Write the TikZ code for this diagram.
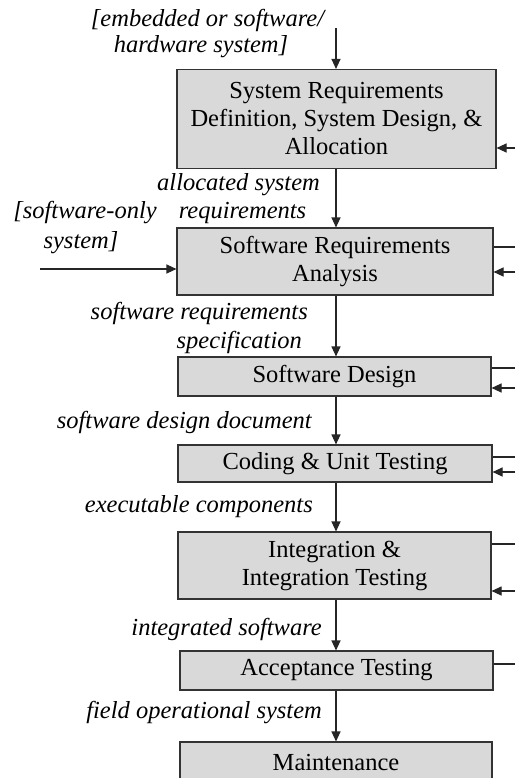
\documentclass[tikz,border=0pt]{standalone}
\usepackage{fontspec}
\setmainfont{Liberation Serif}
\usetikzlibrary{arrows.meta}
\begin{document}
\begin{tikzpicture}[x=1pt,y=-1pt,
  stage/.style={draw=black!80, line width=1.1pt, fill=black!15, inner sep=0pt,
    align=center, font=\fontsize{24.5}{28}\selectfont},
  lbl/.style={inner sep=0pt, font=\fontsize{24.5}{28}\selectfont\itshape},
  flow/.style={line width=1.1pt, draw=black!85, -{Triangle[length=10pt,width=9pt]}},
  link/.style={line width=1.1pt, draw=black!85}]
\clip (0,0) rectangle (515,778);
\fill[white] (0,0) rectangle (515,778);
% stages
\node[stage, minimum width=319pt, minimum height=99pt] (b1) at (336.5,119)
  {System Requirements\\Definition, System Design, \&\\Allocation};
\node[stage, minimum width=316pt, minimum height=67pt] (b2) at (335,261.5)
  {Software Requirements\\Analysis};
\node[stage, minimum width=313pt, minimum height=39pt] (b3) at (334.5,376.5)
  {Software Design};
\node[stage, minimum width=314pt, minimum height=37pt] (b4) at (335,463.5)
  {Coding \& Unit Testing};
\node[stage, minimum width=313pt, minimum height=67pt] (b5) at (334.5,565.5)
  {Integration \&\\Integration Testing};
\node[stage, minimum width=313pt, minimum height=39pt] (b6) at (336.5,670.5)
  {Acceptance Testing};
\node[stage, minimum width=312pt, minimum height=40pt] (b7) at (336,762)
  {Maintenance};
% labels
\node[lbl] (l0a) at (207.5,20) {[embedded or software/};
\node[lbl] (l0b) at (201,47) {hardware system]};
\node[lbl] (l1a) at (238.5,185) {allocated system};
\node[lbl] (l1b) at (242.5,213) {requirements};
\node[lbl] (l2a) at (85,213) {[software-only};
\node[lbl] (l2b) at (81,243) {system]};
\node[lbl, anchor=east] (l3a) at (308,313) {software requirements};
\node[lbl, anchor=east] (l3b) at (302,342) {specification};
\node[lbl, anchor=east] (l4) at (312,422) {software design document};
\node[lbl, anchor=east] (l5) at (313,507) {executable components};
\node[lbl, anchor=east] (l6) at (322,629) {integrated software};
\node[lbl, anchor=east] (l7) at (322,713) {field operational system};
% vertical flow
\coordinate (vx) at (336,0);
\coordinate (top) at (336,28);
\coordinate (left) at (40,269);
\draw[flow] (top) -- (b1.north -| vx);
\draw[flow] (b1.south -| vx) -- (b2.north -| vx);
\draw[flow] (left) -- (left -| b2.west);
\draw[flow] (b2.south -| vx) -- (b3.north -| vx);
\draw[flow] (b3.south -| vx) -- (b4.north -| vx);
\draw[flow] (b4.south -| vx) -- (b5.north -| vx);
\draw[flow] (b5.south -| vx) -- (b6.north -| vx);
\draw[flow] (b6.south -| vx) -- (b7.north -| vx);
% right side feedback stubs
\coordinate (r1in) at (515,148);
\coordinate (r2out) at (515,247);
\coordinate (r2in) at (515,272);
\coordinate (r3out) at (515,368);
\coordinate (r3in) at (515,388);
\coordinate (r4out) at (515,457);
\coordinate (r4in) at (515,472);
\coordinate (r5out) at (515,544);
\coordinate (r5in) at (515,591);
\coordinate (r6out) at (515,664);
\draw[flow] (r1in) -- (r1in -| b1.east);
\draw[link] (r2out -| b2.east) -- (r2out);
\draw[flow] (r2in) -- (r2in -| b2.east);
\draw[link] (r3out -| b3.east) -- (r3out);
\draw[flow] (r3in) -- (r3in -| b3.east);
\draw[link] (r4out -| b4.east) -- (r4out);
\draw[flow] (r4in) -- (r4in -| b4.east);
\draw[link] (r5out -| b5.east) -- (r5out);
\draw[flow] (r5in) -- (r5in -| b5.east);
\draw[link] (r6out -| b6.east) -- (r6out);
\end{tikzpicture}
\end{document}
